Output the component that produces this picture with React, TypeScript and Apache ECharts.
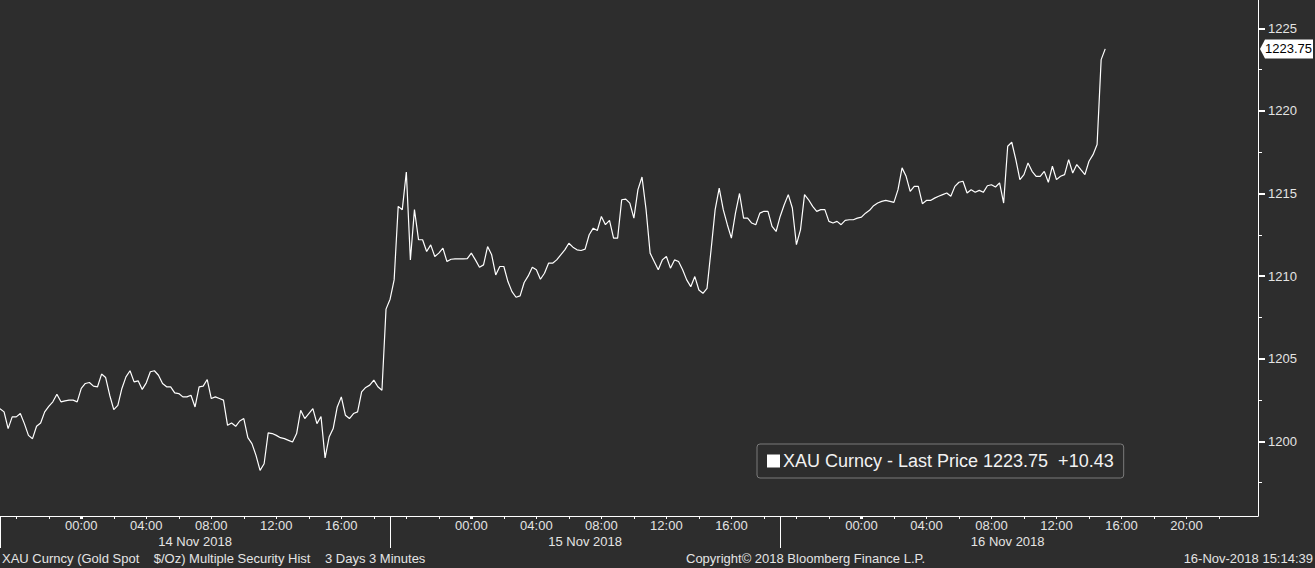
import React, { useEffect, useRef } from "react";
import * as echarts from "echarts";

// Hours counted from 13 Nov 2018 00:00; one sample every 15 minutes from 13 Nov 19:00
const START_HOUR = 19;
const STEP_HOURS = 0.25;
const prices = [
  1201.98, 1201.78, 1200.77, 1201.48, 1201.48, 1201.68, 1201.07, 1200.36, 1200.16, 1200.91,
  1201.11, 1201.78, 1202.12, 1202.39, 1202.85, 1202.39, 1202.45, 1202.49, 1202.49, 1202.39,
  1203.2, 1203.5, 1203.56, 1203.34, 1203.3, 1204.07, 1203.86, 1202.79, 1201.92, 1202.18,
  1203.2, 1203.9, 1204.27, 1203.6, 1203.66, 1203.14, 1203.54, 1204.21, 1204.27, 1204.0,
  1203.5, 1203.3, 1203.3, 1202.93, 1202.89, 1202.69, 1202.69, 1202.79, 1202.08, 1203.3,
  1203.34, 1203.74, 1202.59, 1202.69, 1202.59, 1202.49, 1200.97, 1201.11, 1200.91, 1201.23,
  1201.38, 1200.22, 1199.86, 1199.15, 1198.24, 1198.64, 1200.51, 1200.47, 1200.36, 1200.22,
  1200.16, 1200.06, 1199.96, 1200.47, 1201.88, 1201.38, 1201.68, 1201.98, 1201.07, 1201.5,
  1199.0, 1200.26, 1200.77, 1202.08, 1202.69, 1201.58, 1201.38, 1201.68, 1201.78, 1202.99,
  1203.26, 1203.4, 1203.7, 1203.3, 1203.09, 1208.0, 1208.6, 1209.77, 1214.22, 1214.02,
  1216.3, 1210.98, 1214.02, 1212.2, 1212.2, 1211.49, 1211.89, 1211.19, 1211.39, 1211.69,
  1210.88, 1211.02, 1211.04, 1211.04, 1211.04, 1211.06, 1211.39, 1210.98, 1210.54, 1210.68,
  1211.79, 1211.29, 1210.07, 1210.58, 1210.58, 1209.67, 1209.06, 1208.72, 1208.8, 1209.61,
  1210.01, 1210.54, 1210.38, 1209.81, 1210.17, 1210.78, 1210.78, 1210.98, 1211.29, 1211.59,
  1211.99, 1211.75, 1211.59, 1211.55, 1211.63, 1212.5, 1212.9, 1212.76, 1213.61, 1213.11,
  1213.37, 1212.3, 1212.3, 1214.62, 1214.66, 1214.42, 1213.51, 1215.23, 1216.0, 1214.02,
  1211.39, 1210.88, 1210.38, 1210.98, 1211.19, 1210.48, 1210.98, 1210.88, 1210.38, 1209.77,
  1209.36, 1209.97, 1209.16, 1208.96, 1209.26, 1211.59, 1214.02, 1215.33, 1214.02, 1213.11,
  1212.3, 1213.81, 1215.0, 1213.51, 1213.51, 1213.21, 1213.11, 1213.81, 1213.92, 1213.92,
  1213.01, 1212.7, 1213.61, 1214.32, 1214.93, 1214.12, 1211.9, 1212.8, 1214.93, 1214.62,
  1214.22, 1213.92, 1214.02, 1214.02, 1213.31, 1213.21, 1213.31, 1213.11, 1213.37, 1213.41,
  1213.41, 1213.51, 1213.57, 1213.81, 1213.98, 1214.26, 1214.42, 1214.52, 1214.58, 1214.52,
  1214.46, 1215.23, 1216.55, 1216.04, 1215.13, 1215.43, 1215.43, 1214.38, 1214.58, 1214.58,
  1214.72, 1214.83, 1214.93, 1215.03, 1214.83, 1215.43, 1215.68, 1215.74, 1215.03, 1215.23,
  1215.07, 1215.19, 1215.07, 1215.47, 1215.53, 1215.39, 1215.64, 1214.42, 1217.86, 1218.1,
  1217.05, 1215.84, 1216.14, 1216.85, 1216.34, 1216.04, 1216.04, 1216.34, 1215.68, 1216.65,
  1215.84, 1216.04, 1216.14, 1217.05, 1216.24, 1216.75, 1216.44, 1216.14, 1216.95, 1217.35,
  1217.96, 1223.1, 1223.75,
];

const LAST_PRICE = 1223.75;
const NET_CHANGE = "+10.43";
const SERIES_NAME = "XAU Curncy - Last Price";

const X_MIN = 19;
const X_MAX = 96.4;
const Y_MIN = 1195.48;
const Y_MAX = 1226.71;

const tickHours = [
  20, 22, 24, 26, 28, 30, 32, 34, 36, 38, 40, 42, 44, 46, 48, 50, 52, 54, 56, 58,
  60, 62, 64, 66, 68, 70, 72, 74, 76, 78, 80, 82, 84, 86, 88, 90, 92, 94,
];
const timeLabelHours = [24, 28, 32, 36, 40, 48, 52, 56, 60, 64, 72, 76, 80, 84, 88, 92];
const midnightHours = [24, 48, 72];
const sessionStartHours = [19, 43, 67];
const dayLabelHours = [31, 55, 81];
const dayLabels = ["14 Nov 2018", "15 Nov 2018", "16 Nov 2018"];

const yMajorTicks = [1200, 1205, 1210, 1215, 1220, 1225];
const yMinorTicks = [1197.5, 1202.5, 1207.5, 1212.5, 1217.5, 1222.5];

const footerLeft = "XAU Curncy (Gold Spot    $/Oz) Multiple Security Hist    3 Days 3 Minutes";
const footerMid = "Copyright\u00a9 2018 Bloomberg Finance L.P.";
const footerRight = "16-Nov-2018 15:14:39";

const BG = "#2d2d2d";
const TXT = "#e4e4e4";
const FONT = "'Liberation Sans', Arial, sans-serif";

export default function App() {
  const ref = useRef<HTMLDivElement>(null);

  useEffect(() => {
    if (!ref.current) return;
    const chart = echarts.init(ref.current, undefined, { renderer: "svg" });
    const data = prices.map((v, i) => [START_HOUR + i * STEP_HOURS, v]);

    const baseX = {
      type: "value" as const,
      min: X_MIN,
      max: X_MAX,
      position: "bottom" as const,
      splitLine: { show: false },
    };

    chart.setOption({
      animation: false,
      backgroundColor: BG,
      textStyle: { fontFamily: FONT },
      grid: { left: 0, right: 57, top: 0, bottom: 52, containLabel: false },
      legend: {
        left: 757,
        top: 444,
        padding: [8, 10, 8, 10],
        backgroundColor: BG,
        borderColor: "#7a7a7a",
        borderWidth: 1,
        borderRadius: 3,
        icon: "rect",
        itemWidth: 13,
        itemHeight: 13,
        itemGap: 0,
        data: [SERIES_NAME],
        formatter: (n: string) => `${n} ${LAST_PRICE.toFixed(2)}  ${NET_CHANGE}`,
        textStyle: { color: "#f2f2f2", fontSize: 18, fontFamily: FONT, padding: [0, 0, 0, -2] },
        selectedMode: false,
      },
      xAxis: [
        {
          ...baseX,
          axisLine: { show: true, lineStyle: { color: "#ffffff", width: 1 } },
          axisTick: { show: true, customValues: tickHours, length: 3, lineStyle: { color: "#ffffff" } },
          axisLabel: {
            show: true,
            customValues: timeLabelHours,
            formatter: (v: number) => `${String(v % 24).padStart(2, "0")}:00`,
            color: TXT,
            fontSize: 13,
            fontFamily: FONT,
            margin: 3,
          },
        },
        {
          ...baseX,
          axisLine: { show: false },
          axisTick: { show: false },
          axisLabel: {
            show: true,
            customValues: dayLabelHours,
            formatter: (v: number) => dayLabels[dayLabelHours.indexOf(v)] ?? "",
            color: TXT,
            fontSize: 13,
            fontFamily: FONT,
            margin: 19,
          },
        },
        {
          ...baseX,
          axisLine: { show: false },
          axisTick: { show: true, customValues: sessionStartHours, length: 32, lineStyle: { color: "#ffffff", width: 1 } },
          axisLabel: { show: false },
        },
        {
          ...baseX,
          axisLine: { show: false },
          axisTick: { show: true, customValues: midnightHours, length: 3, inside: false, lineStyle: { color: "#ffffff", width: 3 } },
          axisLabel: { show: false },
        },
      ],
      yAxis: [
        {
          type: "value",
          position: "right",
          min: Y_MIN,
          max: Y_MAX,
          splitLine: { show: false },
          axisLine: { show: true, lineStyle: { color: "#ffffff", width: 1 } },
          axisTick: { show: true, customValues: yMajorTicks, length: 7, lineStyle: { color: "#ffffff", width: 2 } },
          axisLabel: {
            show: true,
            customValues: yMajorTicks,
            formatter: (v: number) => String(v),
            color: TXT,
            fontSize: 13,
            fontFamily: FONT,
            margin: 10,
          },
        },
        {
          type: "value",
          position: "right",
          min: Y_MIN,
          max: Y_MAX,
          splitLine: { show: false },
          axisLine: { show: false },
          axisTick: { show: true, customValues: yMinorTicks, length: 4, lineStyle: { color: "#ffffff", width: 1 } },
          axisLabel: { show: false },
        },
      ],
      series: [
        {
          name: SERIES_NAME,
          type: "line",
          xAxisIndex: 0,
          yAxisIndex: 0,
          data,
          showSymbol: false,
          clip: false,
          color: "#ffffff",
          lineStyle: { color: "#ffffff", width: 1.2 },
          itemStyle: { color: "#ffffff" },
          markPoint: {
            silent: true,
            symbol: "path://M0,9 L5,0 L53,0 L53,18 L5,18 Z",
            symbolSize: [53, 19],
            symbolKeepAspect: false,
            symbolOffset: [28.5, 0],
            itemStyle: { color: "#ffffff" },
            label: {
              show: true,
              position: "inside",
              color: "#000000",
              fontSize: 13,
              fontFamily: FONT,
              offset: [2, 0],
              formatter: () => LAST_PRICE.toFixed(2),
            },
            data: [{ coord: [X_MAX, LAST_PRICE], value: LAST_PRICE }],
          },
        },
      ],
      graphic: [
        {
          type: "text",
          left: 2,
          top: 552,
          style: { text: footerLeft, fill: TXT, font: `13px ${FONT}` },
        },
        {
          type: "text",
          left: 686,
          top: 552,
          style: { text: footerMid, fill: TXT, font: `13px ${FONT}` },
        },
        {
          type: "text",
          right: 2,
          top: 552,
          style: { text: footerRight, fill: TXT, font: `13px ${FONT}` },
        },
      ],
    });

    return () => chart.dispose();
  }, []);

  return (
    <div
      ref={ref}
      style={{ position: "fixed", left: 0, top: 0, width: 1315, height: 568, background: BG }}
    />
  );
}
